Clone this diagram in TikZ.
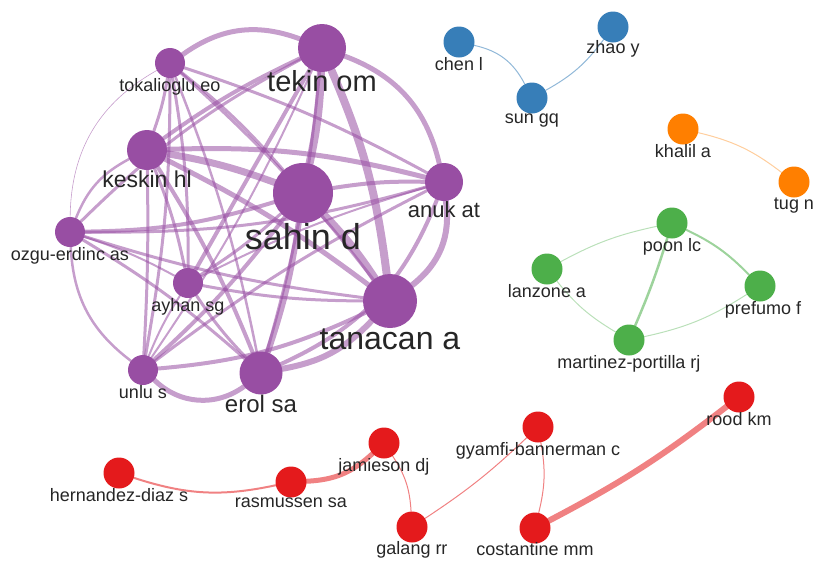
\documentclass[tikz,border=0pt]{standalone}
\usepackage{fontspec}
\setmainfont{Liberation Sans}
\usetikzlibrary{positioning,backgrounds}
\definecolor{cpurple}{HTML}{984EA3}
\definecolor{cblue}{HTML}{377EB8}
\definecolor{corange}{HTML}{FF7F00}
\definecolor{cgreen}{HTML}{4DAF4A}
\definecolor{cred}{HTML}{E41A1C}
\tikzstyle{author} = [circle, inner sep=0pt, draw=none, minimum size=31pt]
\tikzstyle{lbl} = [inner sep=0pt, text=black!85, font=\fontsize{18}{18}\selectfont]
\tikzstyle{link} = [line cap=round, opacity=.55]

\begin{document}
\begin{tikzpicture}[x=1pt,y=1pt]
\useasboundingbox (0,0) rectangle (814,-560);

% purple group
\node (tekin) [author, fill=cpurple, minimum size=48pt] at (322,-48) {};
\node (tokal) [author, fill=cpurple, minimum size=30pt] at (170,-63) {};
\node (keskin) [author, fill=cpurple, minimum size=40pt] at (147,-150) {};
\node (sahin) [author, fill=cpurple, minimum size=60pt] at (303,-193) {};
\node (anuk) [author, fill=cpurple, minimum size=38pt] at (444,-182) {};
\node (ozgu) [author, fill=cpurple, minimum size=30pt] at (70,-232) {};
\node (ayhan) [author, fill=cpurple, minimum size=30pt] at (188,-283) {};
\node (tanacan) [author, fill=cpurple, minimum size=54pt] at (390,-301) {};
\node (unlu) [author, fill=cpurple, minimum size=30pt] at (143,-370) {};
\node (erol) [author, fill=cpurple, minimum size=43pt] at (261,-373) {};

\node (tekin-l) [lbl, below=-2pt of tekin, font=\fontsize{29}{29}\selectfont] {tekin om};
\node (tokal-l) [lbl, below=0pt of tokal] {tokalioglu eo};
\node (keskin-l) [lbl, below=0pt of keskin, font=\fontsize{23}{23}\selectfont] {keskin hl};
\node (sahin-l) [lbl, below=0pt of sahin, font=\fontsize{36}{36}\selectfont] {sahin d};
\node (anuk-l) [lbl, below=0pt of anuk, font=\fontsize{22}{22}\selectfont] {anuk at};
\node (ozgu-l) [lbl, below=0pt of ozgu] {ozgu-erdinc as};
\node (ayhan-l) [lbl, below=0pt of ayhan] {ayhan sg};
\node (tanacan-l) [lbl, below=0pt of tanacan, font=\fontsize{32}{32}\selectfont] {tanacan a};
\node (unlu-l) [lbl, below=0pt of unlu] {unlu s};
\node (erol-l) [lbl, below=0pt of erol, font=\fontsize{24}{24}\selectfont] {erol sa};

% blue group
\node (chen) [author, fill=cblue] at (459,-42) {};
\node (zhao) [author, fill=cblue] at (613,-27) {};
\node (sungq) [author, fill=cblue] at (532,-98) {};
\node (chen-l) [lbl, below=0pt of chen] {chen l};
\node (zhao-l) [lbl, below=-2pt of zhao] {zhao y};
\node (sungq-l) [lbl, below=0pt of sungq] {sun gq};

% orange group
\node (khalil) [author, fill=corange] at (683,-129) {};
\node (tug) [author, fill=corange] at (794,-182) {};
\node (khalil-l) [lbl, below=0pt of khalil] {khalil a};
\node (tug-l) [lbl, below=0pt of tug] {tug n};

% green group
\node (poon) [author, fill=cgreen] at (672,-223) {};
\node (lanzone) [author, fill=cgreen] at (547,-269) {};
\node (prefumo) [author, fill=cgreen] at (760,-286) {};
\node (martinez) [author, fill=cgreen] at (629,-340) {};
\node (poon-l) [lbl, below=0pt of poon] {poon lc};
\node (lanzone-l) [lbl, below=0pt of lanzone] {lanzone a};
\node (prefumo-l) [lbl, below=0pt of prefumo, xshift=3pt] {prefumo f};
\node (martinez-l) [lbl, below=0pt of martinez] {martinez-portilla rj};

% red group
\node (rood) [author, fill=cred] at (739,-397) {};
\node (gyamfi) [author, fill=cred] at (538,-427) {};
\node (jamieson) [author, fill=cred] at (384,-443) {};
\node (hernandez) [author, fill=cred] at (119,-473) {};
\node (rasmussen) [author, fill=cred] at (291,-482) {};
\node (galang) [author, fill=cred] at (412,-527) {};
\node (costantine) [author, fill=cred] at (535,-528) {};
\node (rood-l) [lbl, below=0pt of rood] {rood km};
\node (gyamfi-l) [lbl, below=0pt of gyamfi] {gyamfi-bannerman c};
\node (jamieson-l) [lbl, below=0pt of jamieson] {jamieson dj};
\node (hernandez-l) [lbl, below=0pt of hernandez] {hernandez-diaz s};
\node (rasmussen-l) [lbl, below=0pt of rasmussen] {rasmussen sa};
\node (galang-l) [lbl, below=-1pt of galang] {galang rr};
\node (costantine-l) [lbl, below=-1pt of costantine] {costantine mm};

\begin{scope}[on background layer]
% co-author links, width = strength
\foreach \a/\b/\w/\bd in {tokal/tekin/5/28, tekin/anuk/5/28, anuk/tanacan/6/30,
  tanacan/erol/6/18, erol/unlu/5/40, unlu/ozgu/2.5/25, ozgu/tokal/0.6/30,
  ozgu/keskin/2.5/20, tokal/keskin/3/5, tekin/sahin/8/5, tekin/tanacan/8/8,
  sahin/tanacan/8/5, keskin/sahin/7/5, keskin/tanacan/5/5, keskin/anuk/5/8,
  sahin/erol/6/5, sahin/anuk/4/5, tekin/keskin/4/-5, tekin/ayhan/4/0,
  tekin/ozgu/3/-8, tekin/erol/3/5, tekin/unlu/2/5, tokal/sahin/3/5,
  tokal/anuk/3/5, tokal/tanacan/3/5, tokal/ayhan/3/5, tokal/erol/2.5/5,
  tokal/unlu/3/5, keskin/erol/4/5, keskin/unlu/3/2, keskin/ayhan/3/5,
  sahin/ozgu/4/8, sahin/ayhan/3/5, sahin/unlu/4/5, anuk/ozgu/3/8,
  erol/anuk/4/-22, anuk/unlu/3/-5, anuk/ayhan/2/-5, tanacan/unlu/4/10,
  tanacan/ozgu/3/5, tanacan/ayhan/3/5, erol/ozgu/3/-5, erol/ayhan/3/5,
  unlu/ayhan/2/5, ozgu/ayhan/2/5}
  \draw[link, cpurple, line width=\w pt] (\a) to[bend left=\bd] (\b);

\draw[link, cblue, line width=1pt] (chen) to[bend left=25] (sungq);
\draw[link, cblue, line width=1pt] (sungq) to[bend right=12] (zhao);
\draw[link, corange!70, line width=1pt] (khalil) to[bend left=12] (tug);

\draw[link, cgreen!70, line width=1pt] (lanzone) to[bend left=8] (poon);
\draw[link, cgreen, line width=2pt] (poon) to[bend left=10] (prefumo);
\draw[link, cgreen, line width=2.5pt] (poon) to[bend left=3] (martinez);
\draw[link, cgreen!70, line width=1pt] (lanzone) to[bend right=10] (martinez);
\draw[link, cgreen!70, line width=1pt] (martinez) to[bend right=10] (prefumo);

\draw[link, cred, line width=2pt] (hernandez) to[bend right=15] (rasmussen);
\draw[link, cred, line width=5pt] (rasmussen) to[bend right=20] (jamieson);
\draw[link, cred, line width=1pt] (jamieson) to[bend left=15] (galang);
\draw[link, cred, line width=1pt] (galang) to[bend right=5] (gyamfi);
\draw[link, cred, line width=1pt] (gyamfi) to[bend left=12] (costantine);
\draw[link, cred, line width=6pt] (costantine) to[bend right=5] (rood);
\end{scope}
\end{tikzpicture}
\end{document}
